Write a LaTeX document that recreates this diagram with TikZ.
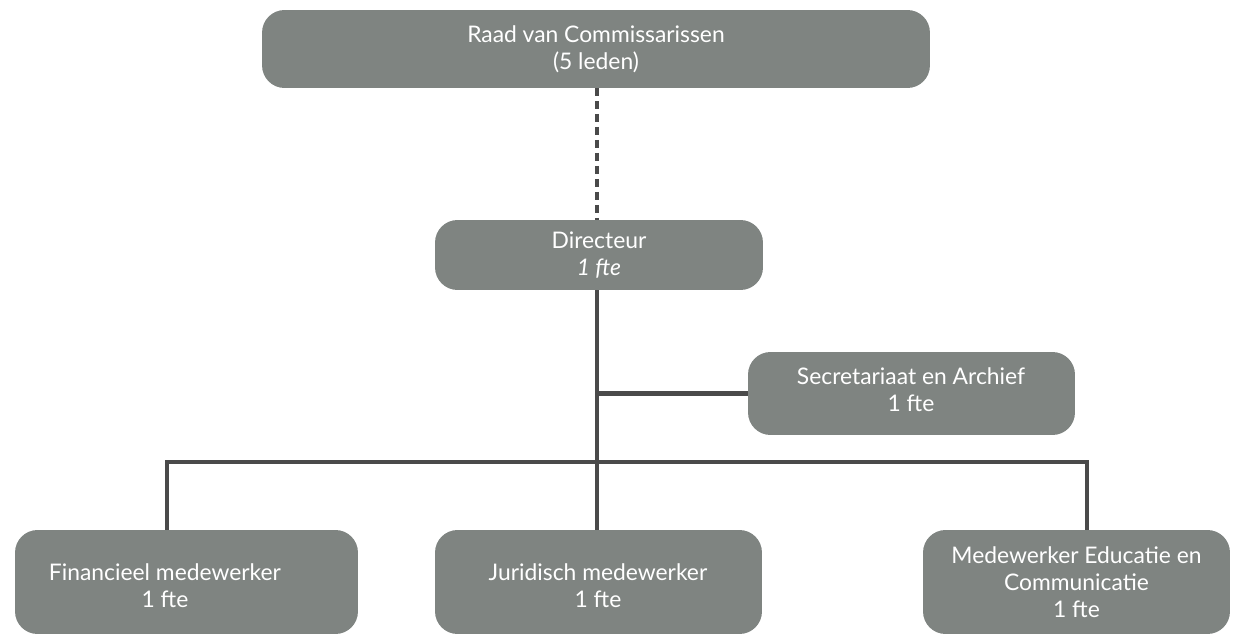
\documentclass[tikz,border=0pt]{standalone}
\usepackage{fontspec}
\setmainfont{Lato}
\begin{document}
\begin{tikzpicture}[x=0.02cm,y=-0.02cm]
\definecolor{boxgray}{RGB}{127,132,129}
\definecolor{linegray}{RGB}{74,74,74}
\tikzset{
  box/.style={fill=boxgray, rounded corners=0.45cm, inner sep=0pt, text=white, align=center, font=\fontsize{13}{15.5}\selectfont},
  lbl/.style={inner sep=0pt, text=white, align=center, font=\fontsize{13}{15.5}\selectfont},
  conn/.style={draw=linegray, line width=2.3pt},
  dashconn/.style={draw=linegray, line width=2.3pt, dash pattern=on 0.16cm off 0.1cm}
}
\useasboundingbox (0,0) rectangle (1234,636);
\node[box, minimum width=13.36cm, minimum height=1.56cm] (rvc) at (596,49) {Raad van Commissarissen\\(5 leden)};
\node[box, minimum width=6.56cm, minimum height=1.4cm] (dir) at (599,255) {Directeur\\\itshape 1 fte};
\node[box, minimum width=6.54cm, minimum height=1.66cm] (sec) at (911.5,393.5) {};
\node[lbl] (sectxt) at (911,390) {Secretariaat en Archief\\1 fte};
\node[box, minimum width=6.86cm, minimum height=2.08cm] (fin) at (186.5,582) {};
\node[lbl] (fintxt) at (165,586) {Financieel medewerker\\1 fte};
\node[box, minimum width=6.54cm, minimum height=2.08cm] (jur) at (598.5,582) {};
\node[lbl] (jurtxt) at (598,586) {Juridisch medewerker\\1 fte};
\node[box, minimum width=6.14cm, minimum height=2.08cm] (med) at (1076.5,582) {Medewerker Educatie en\\Communicatie\\1 fte};
\coordinate (barL) at (167,462);
\coordinate (barR) at (1087,462);
\coordinate (barM) at (597,462);
\draw[dashconn] (597,88) coordinate (rvcb) -- (rvcb |- dir.north);
\draw[conn] (barM |- dir.south) -- (barM);
\draw[conn] (barM |- sec.west) -- (sec.west);
\draw[conn] (barL |- fin.north) -- (barL) -- (barR) -- (barR |- med.north);
\draw[conn] (barM) -- (barM |- jur.north);
\end{tikzpicture}
\end{document}
